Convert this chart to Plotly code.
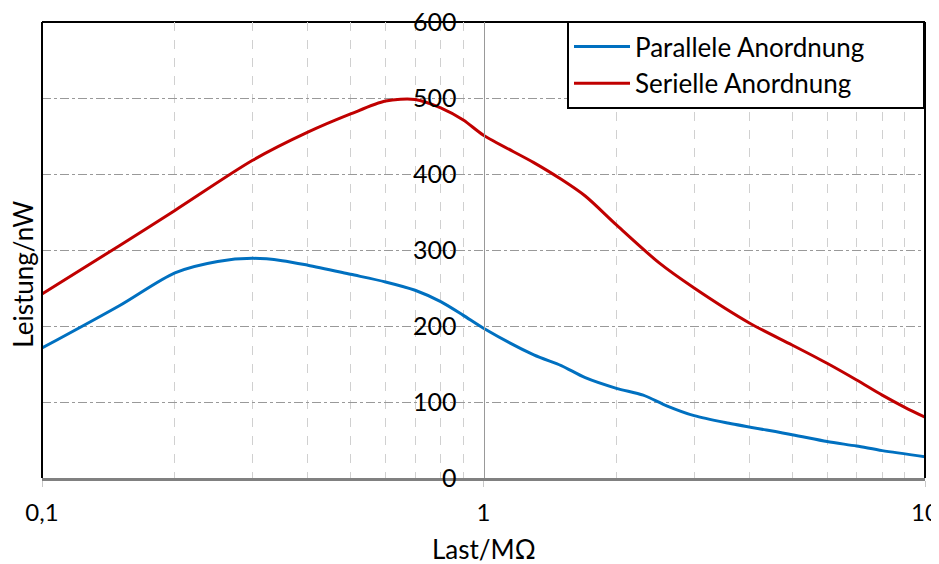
import plotly.graph_objects as go

# Data (Last in MΩ, Leistung in nW)
x_par = [0.1, 0.15, 0.2, 0.25, 0.3, 0.35, 0.4, 0.5, 0.6, 0.7, 0.8, 0.9, 1.0, 1.3, 1.5, 1.7, 2.0, 2.3, 2.6, 3.0, 3.6, 5.0, 6.0, 7.0, 8.0, 10.0]
y_par = [171, 227, 270, 285, 289, 286, 280, 268, 258, 247, 232, 214, 197, 162, 148, 132, 118, 109, 95, 82, 72, 57, 48, 42, 36, 28]

x_ser = [0.1, 0.15, 0.2, 0.3, 0.4, 0.5, 0.6, 0.7, 0.8, 0.9, 1.0, 1.3, 1.5, 1.7, 2.0, 2.5, 3.0, 4.0, 5.0, 6.0, 7.0, 8.0, 9.0, 10.0]
y_ser = [242, 306, 352, 418, 455, 479, 496, 498, 487, 471, 451, 415, 393, 371, 333, 283, 250, 204, 175, 151, 129, 109, 93, 80]

x_ticks = [0.1, 1, 10]
x_ticktext = ["0,1", "1", "10"]
x_minor = [0.2, 0.3, 0.4, 0.5, 0.6, 0.7, 0.8, 0.9, 2, 3, 4, 5, 6, 7, 8, 9]
y_ticks = [0, 100, 200, 300, 400, 500, 600]

FONT = "Lato"
FS = 26
PAD = "\u00a0" * 8
W, H = 931, 556

fig = go.Figure()
fig.add_trace(go.Scatter(x=x_par, y=y_par, mode="lines", name="Parallele Anordnung" + PAD,
                         line=dict(color="#0070C0", width=3, shape="spline", smoothing=0.8)))
fig.add_trace(go.Scatter(x=x_ser, y=y_ser, mode="lines", name="Serielle Anordnung" + PAD,
                         line=dict(color="#C00000", width=3, shape="spline", smoothing=0.8)))

fig.update_layout(
    width=W, height=H,
    margin=dict(l=34, r=14, t=14, b=86),
    paper_bgcolor="white", plot_bgcolor="white",
    font=dict(family=FONT, size=FS, color="black"),
    showlegend=True,
    legend=dict(x=1, xanchor="right", y=1.002, yanchor="top",
                bgcolor="white", bordercolor="black", borderwidth=2,
                font=dict(family=FONT, size=FS), itemwidth=56,
                tracegroupgap=0),
    xaxis=dict(type="log", range=[-1, 1], tickvals=x_ticks, ticktext=x_ticktext,
               showgrid=False, zeroline=False, automargin=False,
               ticklabeloverflow="allow", tickfont=dict(size=24),
               showline=True, linecolor="#808080", linewidth=3,
               ticks="outside", ticklen=6, tickcolor="#c8c8c8",
               ticklabelstandoff=5,
               minor=dict(tickvals=x_minor, showgrid=True, gridcolor="#d0d0d0",
                          griddash="dash", gridwidth=1, ticks="")),
    yaxis=dict(range=[0, 600], tickvals=y_ticks, anchor="free", position=0.5,
               side="left", showline=True, linecolor="#999999", linewidth=1,
               showgrid=True, gridcolor="#999999", griddash="dashdot", gridwidth=1.3,
               zeroline=False, ticks="", ticklabelstandoff=22, automargin=False,
               ticklabeloverflow="allow", tickfont=dict(size=25)),
    shapes=[
        dict(type="line", xref="paper", yref="paper", x0=0, x1=0, y0=0, y1=1,
             line=dict(color="black", width=2), layer="above"),
        dict(type="line", xref="paper", yref="paper", x0=0, x1=1, y0=1, y1=1,
             line=dict(color="black", width=2), layer="below"),
        dict(type="line", xref="paper", yref="paper", x0=1, x1=1, y0=0, y1=1,
             line=dict(color="black", width=2), layer="above"),
    ],
    annotations=[
        dict(text="Last/MΩ", xref="paper", yref="paper", x=0.5, y=-0.155,
             xanchor="center", yanchor="middle", showarrow=False,
             font=dict(family=FONT, size=FS)),
        dict(text="Leistung/nW", xref="paper", yref="paper", x=-0.021, y=0.447,
             xanchor="center", yanchor="middle", textangle=-90, showarrow=False,
             font=dict(family=FONT, size=FS)),
    ],
)

fig.write_html("out.html", default_width=f"{W}px", default_height=f"{H}px")
